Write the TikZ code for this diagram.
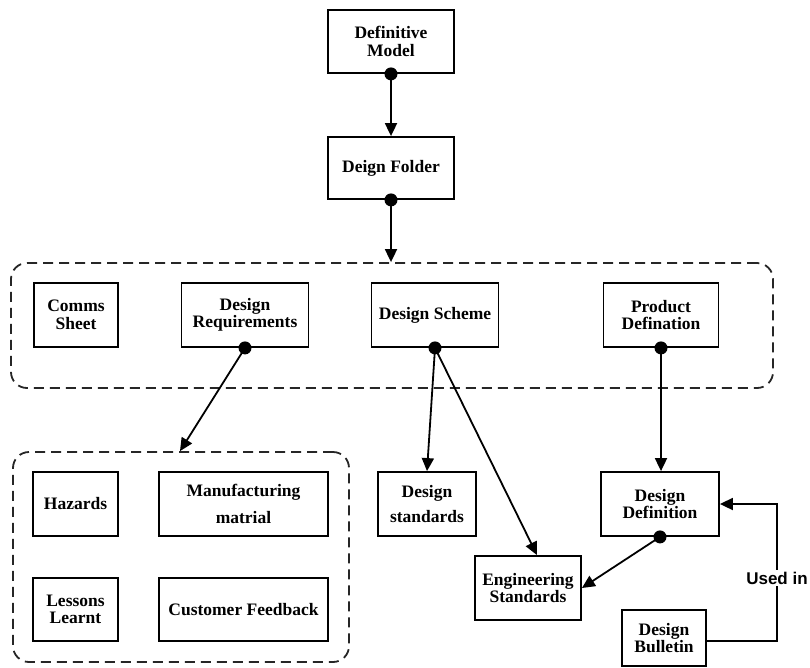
\documentclass[tikz,border=0pt]{standalone}
\usepackage{fontspec}
\setmainfont{Liberation Serif}
\newfontfamily\labelfont{Liberation Sans}
\usetikzlibrary{arrows.meta,calc}
\begin{document}
\begin{tikzpicture}[x=1pt,y=-1pt,
  box/.style={draw, line width=1.8pt, align=center, inner sep=0pt,
    font=\bfseries\fontsize{17.5}{17.5}\selectfont},
  grp/.style={draw=black!85, line width=1.8pt, dash pattern=on 10pt off 6pt,
    rounded corners=16pt, inner sep=0pt},
  conn/.style={line width=1.8pt, -{Triangle[length=13pt,width=12pt]}},
]
\fill[white] (0,0) rectangle (810,667);
\useasboundingbox (0,0) rectangle (810,667);

% groups
\node[grp, minimum width=762pt, minimum height=125pt] (grp1) at (392,325.5) {};
\node[grp, minimum width=336pt, minimum height=210pt] (grp2) at (181,557) {};

% boxes
\node[box, minimum width=126pt, minimum height=63pt] (DM) at (391,41.5) {Definitive\\Model};
\node[box, minimum width=126pt, minimum height=62pt] (DF) at (391,168) {Deign Folder};

\node[box, minimum width=84pt, minimum height=64pt] (CS) at (76,315) {Comms\\Sheet};
\node[box, minimum width=127pt, minimum height=64pt] (DR) at (245,315) {Design\\Requirements};
\node[box, minimum width=127pt, minimum height=64pt] (DS) at (435,315) {Design Scheme};
\node[box, minimum width=115pt, minimum height=64pt] (PD) at (661,315) {Product\\Defination};

\node[box, minimum width=85pt, minimum height=64pt] (HZ) at (75.5,504) {Hazards};
\node[box, minimum width=169pt, minimum height=64pt] (MM) at (243.5,504) {Manufacturing\\[9pt]matrial};
\node[box, minimum width=85pt, minimum height=63pt] (LL) at (75.5,609.5) {Lessons\\Learnt};
\node[box, minimum width=169pt, minimum height=63pt] (CF) at (243.5,609.5) {Customer Feedback};

\node[box, minimum width=98pt, minimum height=64pt] (DST) at (427,504) {Design\\[8pt]standards};
\node[box, minimum width=106pt, minimum height=64pt] (ES) at (528,588) {Engineering\\Standards};
\node[box, minimum width=118pt, minimum height=64pt] (DD) at (660,504) {Design\\Definition};
\node[box, minimum width=84pt, minimum height=56pt] (DB) at (664,638) {Design\\Bulletin};

% connectors
\draw[conn] (DM.south) -- (DF.north);
\draw[conn] (DF.south) -- (DF.south |- grp1.north);
\draw[conn] (DR.south) -- ([xshift=-1pt]grp2.north);
\draw[conn] (DS.south) -- (DST.north);
\draw[conn] (DS.south) -- ([xshift=9pt]ES.north);
\draw[conn] (PD.south) -- (PD.south |- DD.north);
\draw[conn] (DD.south) -- (ES.east);

\coordinate (ucorner) at (777,504);
\draw[conn] ([yshift=-3pt]DB.east) -| (ucorner) -- (DD.east);
\node[fill=white, inner sep=2pt, font=\labelfont\bfseries\fontsize{17}{20}\selectfont] (usedin) at (777,578) {Used in};

% dots
\fill (DM.south) circle (6.5pt);
\fill (DF.south) circle (6.5pt);
\fill (DR.south) circle (6.5pt);
\fill (DS.south) circle (6.5pt);
\fill (PD.south) circle (6.5pt);
\fill (DD.south) circle (6.5pt);
\end{tikzpicture}
\end{document}
